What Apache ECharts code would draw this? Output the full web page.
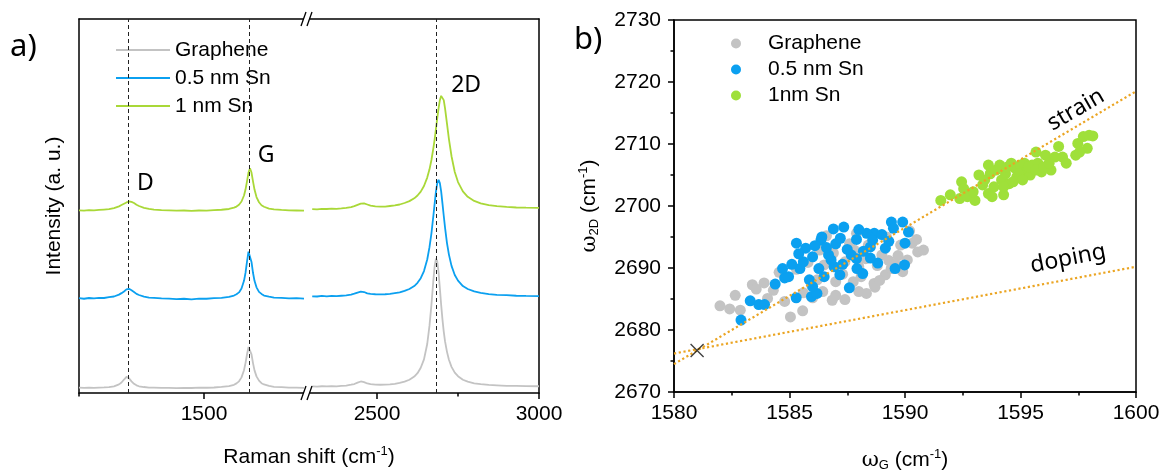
<!DOCTYPE html>
<html>
<head>
<meta charset="utf-8">
<script src="https://cdn.jsdelivr.net/npm/echarts@6/dist/echarts.min.js"></script>
<style>
  html, body { margin: 0; padding: 0; background: #fff; }
  #chart { width: 1166px; height: 470px; }
</style>
</head>
<body>
<div id="chart"></div>
<script>
// ---------- Panel a: Raman spectra (broken wavenumber axis) ----------
const ramanLowX = [1250,1260,1270,1280,1290,1300,1310,1320,1330,1335,1340,1345,1350,1355,1360,1365,1370,1380,1390,1400,1415,1430,1445,1460,1475,1490,1505,1520,1535,1550,1560,1565,1570,1575,1580,1583,1586,1589,1592,1595,1598,1601,1605,1610,1615,1620,1630,1640,1655,1670,1685,1700];
const ramanHighX = [2300,2315,2330,2345,2360,2375,2390,2405,2420,2430,2440,2450,2460,2470,2480,2495,2510,2525,2540,2555,2570,2585,2600,2615,2625,2635,2645,2655,2662,2668,2674,2678,2682,2686,2690,2694,2698,2702,2706,2710,2716,2722,2730,2740,2750,2765,2780,2800,2820,2845,2870,2900,2930,2960,3000];

// intensities (a. u.), spectra stacked with vertical offsets
const grapheneLow = [1.45,1.38,1.42,1.36,1.44,1.48,1.55,1.78,2.30,2.80,3.60,4.30,3.95,3.10,2.45,2.05,1.80,1.60,1.45,1.44,1.35,1.38,1.30,1.36,1.34,1.42,1.40,1.47,1.62,1.86,2.20,2.58,3.12,4.18,6.10,8.00,10.30,12.30,12.25,10.35,8.00,6.05,4.45,3.30,2.62,2.28,1.88,1.66,1.55,1.42,1.45,1.38];
const grapheneHigh = [1.78,1.70,1.80,1.75,1.82,1.78,1.88,1.98,2.22,2.40,2.78,3.08,2.92,2.55,2.35,2.25,2.20,2.25,2.30,2.45,2.70,3.05,3.55,4.40,5.30,6.75,9.00,13.1,18.0,23.6,30.2,34.0,35.9,35.2,32.2,28.0,23.6,19.7,16.4,13.8,11.0,8.9,7.0,5.45,4.50,3.55,3.05,2.60,2.38,2.15,2.05,1.92,1.90,1.82,1.80];

const sn05Low = [25.35,25.20,25.40,25.30,25.45,25.40,25.65,25.80,26.30,26.70,27.15,27.70,27.85,27.45,27.00,26.50,26.20,25.75,25.50,25.45,25.30,25.25,25.10,25.20,25.05,25.25,25.20,25.35,25.45,25.70,26.05,26.40,26.90,27.95,30.00,32.10,35.10,37.80,37.75,35.05,32.15,30.00,28.25,27.05,26.50,26.05,25.75,25.50,25.45,25.30,25.35,25.25];
const sn05High = [25.85,25.80,25.95,25.85,25.95,25.90,26.00,26.10,26.30,26.55,26.85,27.10,27.00,26.65,26.50,26.40,26.35,26.40,26.50,26.70,26.90,27.30,27.80,28.60,29.45,30.70,32.60,35.70,39.00,42.70,47.40,50.70,53.90,56.10,57.00,56.10,53.90,50.70,47.40,44.20,40.10,37.00,34.00,31.55,30.05,28.60,27.80,27.15,26.75,26.45,26.25,26.15,26.00,25.95,25.90];

const sn1Low = [48.85,48.75,48.90,48.85,48.95,49.05,49.15,49.45,49.90,50.25,50.60,50.95,51.20,51.10,50.80,50.35,50.00,49.50,49.25,49.05,48.90,48.85,48.75,48.80,48.70,48.80,48.75,48.90,49.00,49.20,49.55,49.85,50.35,51.20,52.80,54.40,56.60,58.95,60.10,58.95,56.60,54.40,52.40,51.00,50.20,49.80,49.30,49.10,48.95,48.85,48.80,48.75];
const sn1High = [49.15,49.10,49.25,49.20,49.30,49.25,49.35,49.50,49.70,49.95,50.30,50.65,50.70,50.40,50.10,49.90,49.85,49.85,50.00,50.15,50.40,50.80,51.30,52.05,52.80,53.85,55.35,57.60,59.80,62.30,65.50,67.90,70.70,73.50,76.10,78.30,79.45,79.45,78.30,76.10,72.00,67.90,63.30,59.10,56.40,53.90,52.45,51.35,50.70,50.25,49.95,49.75,49.60,49.55,49.50];

const lowPeakLines = [1349, 1590];   // D, G
const highPeakLines = [2683];        // 2D
const lowPeakLabels = [['D', 1383, 56.1], ['G', 1624, 63.6]];
const highPeakLabels = [['2D', 2775, 82.1]];

const lowMajorTicks = [1500];
const lowMinorTicks = [1250];
const highMajorTicks = [2500, 3000];
const highMinorTicks = [2750];

// ---------- Panel b: 2D vs G peak positions ----------
const grapheneShift = [[1581.99,2683.9],[1582.41,2683.4],[1582.65,2685.6],[1582.87,2683.2],[1583.39,2687.3],[1583.56,2686.6],[1584.05,2685.1],[1584.55,2689.3],[1584.79,2684.6],[1585.04,2682.1],[1585.57,2683.1],[1585.95,2687.3],[1586.44,2686.2],[1586.85,2684.8],[1587.0,2685.6],[1587.76,2687.8],[1588.0,2686.2],[1588.33,2685.9],[1588.66,2687.5],[1589.15,2688.9],[1589.4,2689.9],[1589.81,2693.7],[1590.55,2692.6],[1590.31,2694.0],[1588.0,2690.2],[1589.0,2692.1],[1588.41,2693.7],[1587.0,2687.8],[1586.2,2688.1],[1585.3,2689.8],[1585.8,2690.9],[1586.5,2690.5],[1586.9,2692.4],[1587.4,2691.0],[1587.8,2692.9],[1588.3,2691.5],[1588.8,2690.4],[1589.3,2691.2],[1589.7,2692.0],[1590.1,2691.3],[1590.8,2692.9],[1587.3,2689.0],[1588.1,2688.6],[1588.9,2688.0],[1589.6,2690.6],[1586.6,2695.2],[1587.9,2695.6],[1589.2,2695.0],[1590.2,2696.0],[1583.9,2687.6],[1584.3,2686.4],[1586.0,2685.2],[1587.4,2684.9],[1588.7,2686.9],[1589.9,2689.4],[1586.3,2692.9],[1587.6,2693.9],[1590.5,2694.6],[1585.6,2686.0]];
const sn05Shift = [[1582.9,2681.6],[1583.3,2684.7],[1583.67,2684.1],[1583.92,2684.1],[1584.38,2687.4],[1584.79,2688.4],[1584.96,2688.6],[1585.29,2685.2],[1585.45,2689.9],[1585.7,2693.2],[1585.86,2688.1],[1585.95,2685.4],[1586.19,2685.9],[1586.27,2689.9],[1586.36,2694.5],[1586.69,2692.1],[1586.93,2690.2],[1587.18,2688.9],[1587.59,2686.8],[1587.67,2692.1],[1587.92,2689.9],[1588.17,2689.1],[1588.5,2693.4],[1588.82,2690.8],[1589.15,2693.2],[1589.57,2689.9],[1589.98,2690.5],[1587.35,2696.6],[1589.41,2697.4],[1589.9,2697.4],[1590.15,2695.8],[1588.67,2695.6],[1588.34,2695.6],[1586.4,2695.0],[1585.6,2691.0],[1586.0,2691.8],[1586.1,2693.6],[1586.6,2693.3],[1587.0,2693.9],[1587.2,2694.8],[1587.5,2693.0],[1587.9,2694.6],[1588.2,2692.7],[1588.0,2696.2],[1588.6,2694.5],[1589.0,2695.4],[1589.3,2694.3],[1586.8,2691.3],[1587.3,2690.6],[1586.5,2688.6],[1585.1,2690.6],[1584.7,2689.9],[1585.4,2692.3],[1586.0,2687.0],[1587.9,2691.5],[1589.5,2696.4],[1590.0,2694.0],[1588.5,2691.6],[1586.9,2696.3],[1585.3,2694.0]];
const sn1Shift = [[1591.55,2700.9],[1591.96,2701.8],[1592.37,2701.2],[1592.45,2703.9],[1592.54,2702.8],[1592.70,2701.5],[1593.03,2700.9],[1593.2,2705.0],[1593.36,2703.4],[1593.61,2706.6],[1593.69,2705.2],[1593.61,2702.0],[1593.85,2703.1],[1594.1,2706.6],[1594.18,2704.2],[1594.27,2701.8],[1594.35,2705.2],[1594.51,2703.6],[1594.6,2706.9],[1594.76,2706.1],[1594.84,2704.7],[1595.0,2706.6],[1595.17,2706.9],[1595.25,2705.5],[1595.42,2705.0],[1595.5,2706.6],[1595.67,2708.7],[1595.75,2706.9],[1595.91,2705.5],[1596.08,2708.2],[1596.32,2705.8],[1596.65,2709.6],[1596.82,2707.9],[1596.98,2706.9],[1597.39,2708.2],[1597.48,2710.1],[1597.72,2711.2],[1597.89,2709.3],[1597.97,2711.4],[1598.13,2711.3],[1592.95,2702.3],[1593.45,2704.2],[1593.94,2705.8],[1594.43,2706.3],[1594.68,2703.9],[1594.92,2705.2],[1595.09,2704.2],[1595.34,2706.3],[1595.67,2705.8],[1596.0,2706.3],[1596.49,2707.9],[1597.56,2708.7],[1593.77,2701.5],[1594.27,2703.1],[1596.24,2706.9]];

const strainLine = [[1580, 2674.5], [1600, 2718.5]];
const dopingLine = [[1580, 2676.2], [1600, 2690.2]];
const intrinsicPoint = [1581, 2676.7];
const lineLabels = [['strain', 1597.4, 2715.5, 30], ['doping', 1597.06, 2691.5, 11]];

// ---------- styling ----------
const AXIS_FONT = '"Liberation Sans", Arial, sans-serif';
const NOTE_FONT = '"Noto Sans", "Open Sans", sans-serif';
const BLACK = '#000';
const C_GRAY = '#c3c3c3';
const C_BLUE = '#0ba0f0';
const C_GREEN = '#a9d838';
const C_GREEN_DOT = '#9fe03a';
const C_ORANGE = '#eba523';

// panel a frame (left part / right part of the broken axis)
const A = { left: 79, split: 308, right: 539, top: 19, bottom: 393 };
const B = { left: 674, right: 1136, top: 20, bottom: 392 };

const pairs = (xs, ys) => xs.map((x, i) => [x, ys[i]]);
const lineW = { color: BLACK, width: 1.5 };
const plain = v => String(v);
const labelStyle = { color: BLACK, fontSize: 21, fontFamily: AXIS_FONT, formatter: plain };

function frameAxis(gridIndex, position, extra) {
  return Object.assign({
    gridIndex, type: 'value', position,
    axisLine: { show: true, onZero: false, lineStyle: lineW },
    axisTick: { show: false }, axisLabel: { show: false }, splitLine: { show: false }
  }, extra);
}

function tickAxis(gridIndex, min, max, ticks, len, withLabels) {
  return {
    gridIndex, type: 'value', position: 'bottom', min, max,
    axisLine: { show: withLabels, onZero: false, lineStyle: lineW },
    axisTick: { show: true, customValues: ticks, length: len, lineStyle: lineW },
    axisLabel: withLabels ? Object.assign({ customValues: ticks, margin: 11 }, labelStyle) : { show: false },
    splitLine: { show: false }
  };
}

function spectrum(name, xi, yi, xs, ys, color, extra) {
  return Object.assign({
    name, type: 'line', xAxisIndex: xi, yAxisIndex: yi,
    data: pairs(xs, ys), symbol: 'none', showSymbol: false, smooth: false,
    lineStyle: { color, width: 1.8 }, itemStyle: { color },
    animation: false, z: 3
  }, extra);
}

function peakLines(xs) {
  return {
    silent: true, symbol: 'none', animation: false,
    label: { show: false },
    lineStyle: { color: '#222', width: 1, type: [4, 3] },
    data: xs.map(x => ({ xAxis: x }))
  };
}

function textMarks(xi, yi, items, fontSize, font) {
  return {
    type: 'scatter', xAxisIndex: xi, yAxisIndex: yi, silent: true, animation: false,
    symbolSize: 1, itemStyle: { color: 'rgba(255,255,255,0)' }, z: 6,
    label: { show: true, position: 'inside', formatter: '{b}', color: '#000', opacity: 1,
      textBorderWidth: 0, fontWeight: 'normal', fontSize, fontFamily: font },
    data: items.map(t => ({ name: t[0], value: [t[1], t[2]], label: t[3] !== undefined ? { rotate: t[3] } : undefined }))
  };
}

const supRich = {
  sup: { fontSize: 13, fontFamily: AXIS_FONT, padding: [0, 0, 12, 0], color: BLACK, fill: BLACK },
  sub: { fontSize: 13, fontFamily: AXIS_FONT, padding: [10, 0, 0, 0], color: BLACK, fill: BLACK }
};

const chart = echarts.init(document.getElementById('chart'), null, { renderer: 'canvas' });

const lineIcon = 'rect';
const option = {
  backgroundColor: '#fff',
  animation: false,
  grid: [
    { left: A.left, top: A.top, width: A.split - A.left, height: A.bottom - A.top, outerBoundsMode: 'none' },
    { left: A.split, top: A.top, width: A.right - A.split, height: A.bottom - A.top, outerBoundsMode: 'none' },
    { left: B.left, top: B.top, width: B.right - B.left, height: B.bottom - B.top, outerBoundsMode: 'none',
      show: true, borderColor: BLACK, borderWidth: 1.5, backgroundColor: 'transparent' }
  ],
  legend: [
    {
      orient: 'vertical', left: 108, top: 34,
      data: [{ name: 'Graphene', icon: lineIcon }, { name: '0.5 nm Sn', icon: lineIcon }, { name: '1 nm Sn', icon: lineIcon }],
      itemWidth: 54, itemHeight: 2, itemGap: 4,
      backgroundColor: '#fff', padding: [4, 6, 4, 8],
      textStyle: { color: BLACK, fontSize: 21, fontFamily: AXIS_FONT, lineHeight: 24 },
      selectedMode: false
    },
    {
      orient: 'vertical', left: 731, top: 33,
      data: [{ name: 'Graphene', icon: 'circle' }, { name: '0.5 nm Sn', icon: 'circle' }, { name: '1nm Sn', icon: 'circle' }],
      itemWidth: 10, itemHeight: 10, itemGap: 5, padding: 0,
      textStyle: { color: BLACK, fontSize: 21, fontFamily: AXIS_FONT, padding: [0, 0, 0, 22] },
      selectedMode: false
    }
  ],
  xAxis: [
    tickAxis(0, 1250, 1708, lowMajorTicks, 6, true),
    tickAxis(1, 2287, 3000, highMajorTicks, 6, true),
    tickAxis(0, 1250, 1708, lowMinorTicks, 3.5, false),
    tickAxis(1, 2287, 3000, highMinorTicks, 3.5, false),
    frameAxis(0, 'top', { min: 1250, max: 1708 }),
    frameAxis(1, 'top', { min: 2287, max: 3000 }),
    {
      gridIndex: 2, type: 'value', position: 'bottom', min: 1580, max: 1600, interval: 5,
      axisLine: { show: true, onZero: false, lineStyle: lineW },
      axisTick: { show: true, length: 6, lineStyle: lineW },
      minorTick: { show: true, splitNumber: 2, length: 3.5, lineStyle: lineW },
      axisLabel: Object.assign({ margin: 11 }, labelStyle),
      splitLine: { show: false },
      name: '{w|ω}{sub|G} (cm{sup|-1})', nameLocation: 'middle', nameGap: 56,
      nameTextStyle: { color: BLACK, fontSize: 21, fontFamily: AXIS_FONT,
        rich: Object.assign({ w: { fontSize: 21, fontFamily: 'DejaVu Serif', color: BLACK } }, supRich) }
    }
  ],
  yAxis: [
    frameAxis(0, 'left', {
      min: 0, max: 100,
      name: 'Intensity (a. u.)', nameLocation: 'middle', nameRotate: 90, nameGap: 14,
      nameTextStyle: { color: BLACK, fontSize: 21, fontFamily: AXIS_FONT }
    }),
    frameAxis(1, 'right', { min: 0, max: 100 }),
    {
      gridIndex: 2, type: 'value', position: 'left', min: 2670, max: 2730, interval: 10,
      axisLine: { show: true, onZero: false, lineStyle: lineW },
      axisTick: { show: true, length: 6, lineStyle: lineW },
      minorTick: { show: true, splitNumber: 2, length: 3.5, lineStyle: lineW },
      axisLabel: Object.assign({ margin: 13 }, labelStyle),
      splitLine: { show: false },
      name: '{w|ω}{sub|2D} (cm{sup|-1})', nameLocation: 'middle', nameRotate: 90, nameGap: 72,
      nameTextStyle: { color: BLACK, fontSize: 21, fontFamily: AXIS_FONT,
        rich: Object.assign({ w: { fontSize: 21, fontFamily: 'DejaVu Serif', color: BLACK } }, supRich) }
    }
  ],
  series: [
    // spectra, low-wavenumber segment
    spectrum('Graphene', 0, 0, ramanLowX, grapheneLow, C_GRAY, { markLine: peakLines(lowPeakLines) }),
    spectrum('0.5 nm Sn', 0, 0, ramanLowX, sn05Low, C_BLUE),
    spectrum('1 nm Sn', 0, 0, ramanLowX, sn1Low, C_GREEN),
    // spectra, high-wavenumber segment
    spectrum('Graphene', 1, 1, ramanHighX, grapheneHigh, C_GRAY, { markLine: peakLines(highPeakLines) }),
    spectrum('0.5 nm Sn', 1, 1, ramanHighX, sn05High, C_BLUE),
    spectrum('1 nm Sn', 1, 1, ramanHighX, sn1High, C_GREEN),
    textMarks(0, 0, lowPeakLabels, 23, NOTE_FONT),
    textMarks(1, 1, highPeakLabels, 23, NOTE_FONT),

    // peak-position scatter
    { name: 'Graphene', type: 'scatter', xAxisIndex: 6, yAxisIndex: 2, data: grapheneShift,
      symbolSize: 11, itemStyle: { color: C_GRAY, opacity: 1 }, z: 3 },
    { name: '0.5 nm Sn', type: 'scatter', xAxisIndex: 6, yAxisIndex: 2, data: sn05Shift,
      symbolSize: 11, itemStyle: { color: C_BLUE, opacity: 1 }, z: 3 },
    { name: '1nm Sn', type: 'scatter', xAxisIndex: 6, yAxisIndex: 2, data: sn1Shift,
      symbolSize: 11, itemStyle: { color: C_GREEN_DOT, opacity: 1 }, z: 3 },

    // strain and doping reference lines
    { name: 'strainRef', type: 'line', xAxisIndex: 6, yAxisIndex: 2, data: strainLine, symbol: 'none',
      lineStyle: { color: C_ORANGE, width: 2.2, type: [2.2, 2.6] }, z: 4, silent: true },
    { name: 'dopingRef', type: 'line', xAxisIndex: 6, yAxisIndex: 2, data: dopingLine, symbol: 'none',
      lineStyle: { color: C_ORANGE, width: 2.2, type: [2.2, 2.6] }, z: 4, silent: true },
    { name: 'intrinsic', type: 'scatter', xAxisIndex: 6, yAxisIndex: 2, data: [intrinsicPoint],
      symbol: 'path://M0 0L10 10M10 0L0 10', symbolSize: 13,
      itemStyle: { color: 'none', borderColor: '#111', borderWidth: 1.4 }, z: 5, silent: true },
    textMarks(6, 2, lineLabels, 23, NOTE_FONT)
  ]
};

// panel letters, shared x-axis title and the axis-break marks
function breakMark(x, y) {
  return [
    { type: 'rect', shape: { x: x - 3, y: y - 4, width: 6, height: 8 }, style: { fill: '#fff' }, z: 100 },
    { type: 'line', shape: { x1: x - 6, y1: y + 7, x2: x - 1, y2: y - 7 }, style: { stroke: BLACK, lineWidth: 1.3 }, z: 101 },
    { type: 'line', shape: { x1: x, y1: y + 7, x2: x + 5, y2: y - 7 }, style: { stroke: BLACK, lineWidth: 1.3 }, z: 101 }
  ];
}
const breakX = A.split - 1;
option.graphic = [
  { type: 'text', x: 10, y: 32, style: { text: 'a)', fontSize: 31, fontFamily: NOTE_FONT, fill: '#000' } },
  { type: 'text', x: 574, y: 25, style: { text: 'b)', fontSize: 31, fontFamily: NOTE_FONT, fill: '#000' } },
  { type: 'text', x: (A.left + A.right) / 2, y: 457,
    style: { text: 'Raman shift (cm{sup|-1})', align: 'center', verticalAlign: 'middle',
      fontSize: 21, fontFamily: AXIS_FONT, fill: BLACK, rich: supRich } }
].concat(breakMark(breakX, A.top), breakMark(breakX, A.bottom));

chart.setOption(option);
</script>
</body>
</html>
